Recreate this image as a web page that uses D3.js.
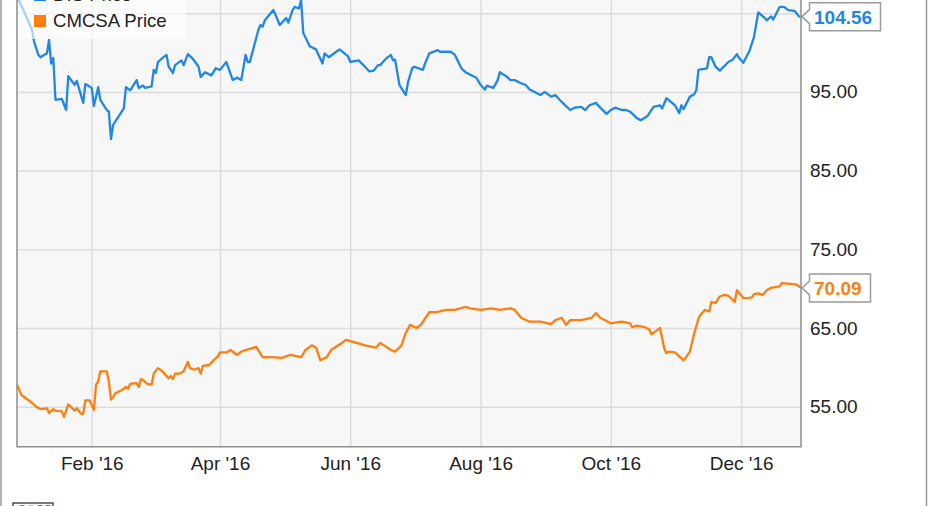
<!DOCTYPE html>
<html><head><meta charset="utf-8">
<script src="https://cdn.jsdelivr.net/npm/d3@7"></script>
<style>
html,body{margin:0;padding:0;background:#fff;overflow:hidden}
svg{display:block;font-family:"Liberation Sans",Arial,Helvetica,sans-serif}
</style></head><body>
<svg id="chart" width="931" height="506"></svg>
<script>
const seriesNames = ["DIS Price", "CMCSA Price"];

const disDates = ["2015-12-28","2015-12-31","2016-01-04","2016-01-05","2016-01-07","2016-01-08","2016-01-11","2016-01-12","2016-01-13","2016-01-14","2016-01-15","2016-01-18","2016-01-20","2016-01-21","2016-01-24","2016-01-25","2016-01-28","2016-01-29","2016-02-01","2016-02-02","2016-02-04","2016-02-05","2016-02-08","2016-02-09","2016-02-10","2016-02-11","2016-02-16","2016-02-17","2016-02-19","2016-02-22","2016-02-23","2016-02-25","2016-02-26","2016-02-29","2016-03-01","2016-03-02","2016-03-03","2016-03-05","2016-03-07","2016-03-08","2016-03-10","2016-03-11","2016-03-14","2016-03-15","2016-03-17","2016-03-19","2016-03-22","2016-03-23","2016-03-25","2016-03-28","2016-03-30","2016-04-01","2016-04-04","2016-04-07","2016-04-09","2016-04-11","2016-04-13","2016-04-14","2016-04-15","2016-04-19","2016-04-20","2016-04-21","2016-04-22","2016-04-26","2016-04-27","2016-04-29","2016-05-02","2016-05-03","2016-05-05","2016-05-06","2016-05-08","2016-05-09","2016-05-10","2016-05-13","2016-05-16","2016-05-19","2016-05-20","2016-05-22","2016-05-25","2016-05-27","2016-05-31","2016-06-01","2016-06-05","2016-06-10","2016-06-12","2016-06-14","2016-06-15","2016-06-18","2016-06-20","2016-06-21","2016-06-22","2016-06-24","2016-06-27","2016-06-28","2016-06-30","2016-07-01","2016-07-05","2016-07-06","2016-07-08","2016-07-12","2016-07-13","2016-07-16","2016-07-18","2016-07-20","2016-07-23","2016-07-25","2016-07-27","2016-07-30","2016-08-01","2016-08-03","2016-08-04","2016-08-07","2016-08-09","2016-08-10","2016-08-13","2016-08-15","2016-08-17","2016-08-20","2016-08-22","2016-08-24","2016-08-27","2016-08-29","2016-08-31","2016-09-03","2016-09-05","2016-09-07","2016-09-10","2016-09-12","2016-09-14","2016-09-17","2016-09-19","2016-09-21","2016-09-24","2016-09-26","2016-09-29","2016-10-01","2016-10-03","2016-10-06","2016-10-08","2016-10-10","2016-10-13","2016-10-15","2016-10-18","2016-10-21","2016-10-24","2016-10-25","2016-10-27","2016-10-31","2016-11-02","2016-11-03","2016-11-04","2016-11-07","2016-11-09","2016-11-10","2016-11-11","2016-11-15","2016-11-16","2016-11-17","2016-11-19","2016-11-21","2016-11-25","2016-11-27","2016-11-29","2016-11-30","2016-12-02","2016-12-05","2016-12-07","2016-12-09","2016-12-12","2016-12-13","2016-12-15","2016-12-16","2016-12-19","2016-12-21","2016-12-23","2016-12-26","2016-12-28","2016-12-29"];
const disValues = [107.0,105.4,102.9,101.4,99.7,99.4,99.9,101.6,98.6,99.3,94.0,94.1,92.7,97.0,95.9,96.4,93.6,96.0,95.5,93.2,95.6,94.0,92.7,92.5,89.0,90.8,92.9,95.6,95.2,96.5,95.5,95.8,95.5,95.7,97.8,97.4,98.8,99.3,99.7,98.2,97.4,98.4,99.0,98.4,99.8,99.3,98.2,96.9,97.5,97.1,98.0,97.8,98.8,96.5,96.8,96.5,99.7,98.8,98.8,102.9,103.5,103.3,104.1,105.4,104.8,103.5,104.4,103.8,105.4,105.8,105.6,106.7,102.5,100.8,100.4,98.6,99.9,99.4,100.0,100.4,99.5,98.8,99.0,97.6,97.7,98.4,98.4,99.3,99.7,99.0,99.1,95.9,94.6,96.2,98.0,98.2,97.8,98.6,99.9,100.3,100.1,100.1,100.1,99.7,98.0,97.5,97.2,96.8,95.9,95.3,95.8,95.5,96.5,97.5,97.0,96.5,96.5,96.1,95.9,95.3,94.9,94.6,95.0,94.4,94.6,94.0,93.2,92.7,93.0,93.1,92.7,93.3,93.6,93.0,92.2,92.7,93.0,92.7,92.7,92.5,91.7,91.4,91.9,93.1,93.3,92.9,94.2,93.3,92.3,93.3,92.8,94.4,94.7,95.2,97.8,98.0,99.4,99.4,98.2,97.7,98.8,99.1,99.8,99.3,98.7,100.3,102.0,105.1,104.4,104.1,104.6,104.2,105.8,105.8,105.4,105.3,104.6,104.56];

const cmcsaDates = ["2015-12-28","2015-12-30","2016-01-01","2016-01-04","2016-01-06","2016-01-08","2016-01-11","2016-01-12","2016-01-14","2016-01-15","2016-01-18","2016-01-19","2016-01-21","2016-01-24","2016-01-25","2016-01-27","2016-01-28","2016-01-29","2016-01-31","2016-02-02","2016-02-03","2016-02-04","2016-02-05","2016-02-08","2016-02-09","2016-02-10","2016-02-11","2016-02-12","2016-02-15","2016-02-17","2016-02-18","2016-02-19","2016-02-22","2016-02-23","2016-02-24","2016-02-25","2016-02-27","2016-02-29","2016-03-01","2016-03-03","2016-03-05","2016-03-08","2016-03-09","2016-03-10","2016-03-11","2016-03-13","2016-03-15","2016-03-17","2016-03-18","2016-03-20","2016-03-22","2016-03-23","2016-03-24","2016-03-27","2016-03-29","2016-03-31","2016-04-01","2016-04-04","2016-04-06","2016-04-09","2016-04-11","2016-04-13","2016-04-18","2016-04-21","2016-04-25","2016-04-30","2016-05-04","2016-05-09","2016-05-11","2016-05-14","2016-05-16","2016-05-18","2016-05-21","2016-05-23","2016-05-28","2016-05-30","2016-06-04","2016-06-08","2016-06-13","2016-06-15","2016-06-18","2016-06-20","2016-06-22","2016-06-25","2016-06-27","2016-06-29","2016-07-02","2016-07-04","2016-07-08","2016-07-11","2016-07-16","2016-07-20","2016-07-25","2016-07-27","2016-08-01","2016-08-06","2016-08-10","2016-08-15","2016-08-17","2016-08-20","2016-08-24","2016-08-29","2016-09-03","2016-09-05","2016-09-08","2016-09-10","2016-09-12","2016-09-17","2016-09-22","2016-09-24","2016-09-26","2016-10-01","2016-10-06","2016-10-10","2016-10-11","2016-10-13","2016-10-17","2016-10-19","2016-10-20","2016-10-23","2016-10-24","2016-10-26","2016-10-27","2016-10-28","2016-10-31","2016-11-02","2016-11-04","2016-11-05","2016-11-07","2016-11-09","2016-11-11","2016-11-12","2016-11-14","2016-11-16","2016-11-17","2016-11-19","2016-11-21","2016-11-23","2016-11-25","2016-11-28","2016-11-29","2016-12-02","2016-12-04","2016-12-06","2016-12-07","2016-12-09","2016-12-11","2016-12-13","2016-12-15","2016-12-19","2016-12-20","2016-12-24","2016-12-27","2016-12-29"];
const cmcsaValues = [57.8,56.5,56.1,55.5,55.0,54.7,54.8,54.2,54.7,54.5,54.4,53.7,55.3,54.5,54.8,54.1,54.1,55.8,55.8,54.6,57.8,58.2,59.5,59.5,58.2,55.9,56.2,56.7,57.1,57.5,57.3,57.9,58.0,57.5,58.5,58.4,57.9,57.8,59.2,59.9,59.5,58.6,58.9,58.5,59.2,59.2,59.5,60.7,59.9,59.7,59.9,59.2,60.2,60.3,60.9,61.4,61.9,61.9,62.2,61.6,62.0,62.2,62.6,61.3,61.3,61.2,61.6,61.3,62.2,62.8,62.5,60.9,61.3,62.2,63.1,63.5,63.1,62.8,62.5,63.1,62.6,62.2,62.0,62.8,64.4,65.4,65.0,65.4,67.0,67.0,67.3,67.3,67.7,67.5,67.3,67.5,67.3,67.5,67.3,66.3,65.8,65.8,65.5,66.0,66.3,65.4,66.0,66.0,66.3,66.9,66.3,65.6,65.8,65.6,65.1,65.3,65.1,64.8,64.2,64.8,65.0,62.4,61.8,62.0,61.9,61.4,60.9,61.2,62.0,64.3,66.2,66.7,67.3,67.1,68.3,68.2,69.0,69.2,69.1,68.3,69.8,68.8,68.8,68.9,69.3,69.4,69.2,69.8,70.1,70.3,70.7,70.6,70.5,70.09];

const yGridValues = [55, 65, 75, 85, 95, 105];
const yLabelValues = [55, 65, 75, 85, 95];
const xTickDates = ["2016-02-01","2016-04-01","2016-06-01","2016-08-01","2016-10-01","2016-12-01"];
const lastLabels = ["104.56", "70.09"];

const parse = d3.timeParse("%Y-%m-%d");
const colors = ["#1f87e5", "#ff7f0e"];
const svg = d3.select("#chart");

const plot = {left: 17, right: 801, top: -80, bottom: 446.7};
const x = d3.scaleTime()
  .domain([parse("2015-12-28"), parse("2016-12-29")])
  .range([plot.left, plot.right]);
const y = d3.scaleLinear().domain([55, 105]).range([406.7, 13.2]);

// outer frame
svg.append("line").attr("x1",1).attr("x2",1).attr("y1",0).attr("y2",506).attr("stroke","#9a9a9a").attr("stroke-width",1.5);
svg.append("line").attr("x1",926.5).attr("x2",926.5).attr("y1",0).attr("y2",506).attr("stroke","#9a9a9a").attr("stroke-width",1.5);

// plot background
svg.append("rect").attr("x",plot.left).attr("y",plot.top)
  .attr("width",plot.right-plot.left).attr("height",plot.bottom-plot.top)
  .attr("fill","#f7f7f7");

// grid
svg.append("g").attr("class","ygrid")
  .attr("transform",`translate(${plot.left},0)`)
  .call(d3.axisLeft(y).tickValues(yGridValues).tickSize(-(plot.right-plot.left)).tickFormat(""))
  .call(g => g.select(".domain").remove())
  .call(g => g.selectAll("line").attr("stroke","#dcdcdc").attr("stroke-width",1.5));
svg.append("g").attr("class","xgrid")
  .attr("transform",`translate(0,${plot.bottom})`)
  .call(d3.axisBottom(x).tickValues(xTickDates.map(parse)).tickSize(-(plot.bottom-plot.top)).tickFormat(""))
  .call(g => g.select(".domain").remove())
  .call(g => g.selectAll("line").attr("stroke","#dcdcdc").attr("stroke-width",1.5));

// lines
const series = [
  disDates.map((d,i)=>({date:parse(d), value:disValues[i]})),
  cmcsaDates.map((d,i)=>({date:parse(d), value:cmcsaValues[i]}))
];
const line = d3.line().x(d=>x(d.date)).y(d=>y(d.value));
series.forEach((s,i)=>{
  svg.append("path").datum(s).attr("d",line)
    .attr("fill","none").attr("stroke",colors[i]).attr("stroke-width",2.3)
    .attr("stroke-linejoin","round");
});

// plot border
svg.append("path")
  .attr("d",`M${plot.left},${plot.top}V${plot.bottom}H${plot.right}V${plot.top}`)
  .attr("fill","none").attr("stroke","#8f8f8f").attr("stroke-width",1.5);

// y axis labels
svg.append("g").attr("class","yaxis")
  .attr("transform",`translate(${plot.right},0)`)
  .call(d3.axisRight(y).tickValues(yLabelValues).tickSize(0).tickPadding(9).tickFormat(d3.format(".2f")))
  .call(g => g.select(".domain").remove())
  .call(g => g.selectAll("text").attr("font-size",19).attr("fill","#222")
      .attr("font-family","'Liberation Sans',Arial,sans-serif"));

// x axis labels
svg.append("g").attr("class","xaxis")
  .attr("transform",`translate(0,${plot.bottom})`)
  .call(d3.axisBottom(x).tickValues(xTickDates.map(parse)).tickSize(0).tickPadding(10).tickFormat(d3.timeFormat("%b '%y")))
  .call(g => g.select(".domain").remove())
  .call(g => g.selectAll("text").attr("font-size",19).attr("fill","#222")
      .attr("font-family","'Liberation Sans',Arial,sans-serif"));

// last value callouts
series.forEach((s,i)=>{
  const last = s[s.length-1];
  const yv = y(last.value);
  const bx = 809.5, bw = i===0 ? 71 : 61, bh = 28;
  const top = yv - bh/2, bot = yv + bh/2;
  const g = svg.append("g");
  g.append("path")
    .attr("d",`M${plot.right+1},${yv}L${bx},${yv-7}V${top}H${bx+bw}V${bot}H${bx}V${yv+7}Z`)
    .attr("fill","#fff").attr("stroke","#9a9a9a").attr("stroke-width",1.5);
  g.append("text").attr("x",bx+4.5).attr("y",yv).attr("dy","0.36em")
    .attr("font-size",19).attr("font-weight","bold").attr("fill",colors[i])
    .text(lastLabels[i]);
});

// legend
const leg = svg.append("g");
leg.append("rect").attr("x",18).attr("y",-40).attr("width",168).attr("height",79)
  .attr("fill","#fff").attr("fill-opacity",0.62);
seriesNames.forEach((n,i)=>{
  const by = 26.7 - (1-i)*26;
  leg.append("rect").attr("x",34).attr("y",by-11.7).attr("width",12).attr("height",12).attr("fill",colors[i]);
  leg.append("text").attr("x",53).attr("y",by).attr("font-size",18.6).attr("fill","#222").text(n);
});

// small logo at bottom left
const logo = svg.append("g");
logo.append("rect").attr("x",13).attr("y",503).attr("width",40).attr("height",10).attr("fill","#fff").attr("stroke","#222").attr("stroke-width",1.2);
logo.append("circle").attr("cx",22).attr("cy",509).attr("r",4).attr("fill","#2e9a3c");
logo.append("circle").attr("cx",31).attr("cy",509).attr("r",4).attr("fill","#e0b34a");
logo.append("circle").attr("cx",40).attr("cy",509).attr("r",4).attr("fill","#d33");
logo.append("circle").attr("cx",48).attr("cy",509).attr("r",4).attr("fill","#2b5fc7");
</script>
</body></html>
